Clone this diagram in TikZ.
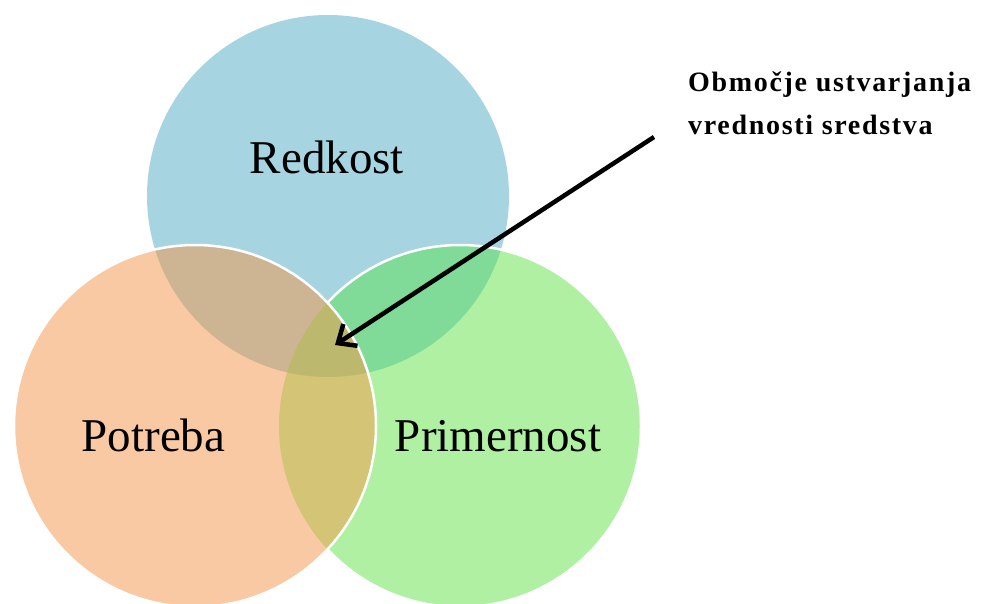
\documentclass[tikz,border=0pt]{standalone}
\usepackage{fontspec}
\setmainfont{Liberation Serif}
\newfontfamily\spacedbold[LetterSpace=6]{Liberation Serif}
\usetikzlibrary{arrows.meta}
\definecolor{cblue}{HTML}{A6D4E1}
\definecolor{corange}{HTML}{F9C9A3}
\definecolor{cgreen}{HTML}{AFF0A2}
\definecolor{cBO}{HTML}{CDB493}
\definecolor{cBG}{HTML}{7FDB97}
\definecolor{cOG}{HTML}{D3C476}
\definecolor{cBOG}{HTML}{BCB86D}
\begin{document}
\begin{tikzpicture}[x=1pt,y=-1pt,
  ring/.style={draw=white, line width=2.5pt},
  lbl/.style={font=\fontsize{47}{56}\selectfont, text=black, inner sep=0pt, anchor=base},
  note/.style={font=\spacedbold\bfseries\fontsize{28}{43}\selectfont, align=left, inner sep=0pt, anchor=base west},
  pointer/.style={line width=4.5pt, -{Straight Barb[length=15pt,width=26pt]}}]
\useasboundingbox (0,0) rectangle (981,604);
\coordinate (ct) at (328,196);
\coordinate (cl) at (195,426);
\coordinate (cr) at (460,426);
% top circle
\fill[cblue] (ct) circle[radius=181pt];
% right circle
\fill[cgreen] (cr) circle[radius=181pt];
\begin{scope}
  \clip (ct) circle[radius=181pt];
  \fill[cBG] (cr) circle[radius=181pt];
\end{scope}
\draw[ring] (cr) circle[radius=181pt];
% left circle
\fill[corange] (cl) circle[radius=181pt];
\begin{scope}
  \clip (cl) circle[radius=181pt];
  \fill[cBO] (ct) circle[radius=181pt];
  \fill[cOG] (cr) circle[radius=181pt];
  \clip (ct) circle[radius=181pt];
  \fill[cBOG] (cr) circle[radius=181pt];
\end{scope}
\draw[ring] (cl) circle[radius=181pt];
% labels
\node[lbl] (redkost) at (327,173) {Redkost};
\node[lbl] (potreba) at (153.5,451) {Potreba};
\node[lbl] (primernost) at (498,451) {Primernost};
\node[note] (obmocje) at (688,135) {Območje ustvarjanja\\vrednosti sredstva};
\coordinate (astart) at (654,137);
\coordinate (aend) at (335,345);
\draw[pointer] (astart) -- (aend);
\end{tikzpicture}
\end{document}
